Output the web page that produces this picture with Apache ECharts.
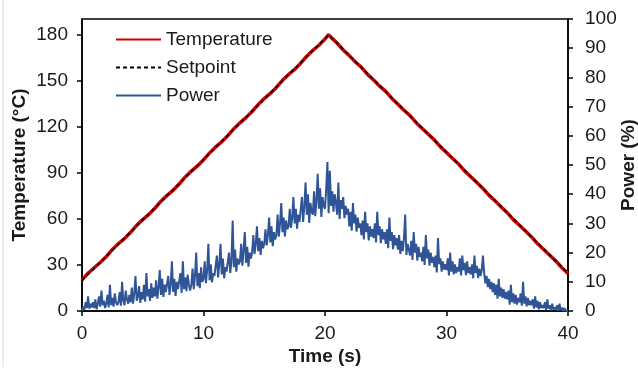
<!DOCTYPE html>
<html>
<head>
<meta charset="utf-8">
<script src="https://cdn.jsdelivr.net/npm/echarts@6/dist/echarts.min.js"></script>
<style>
html,body{margin:0;padding:0;background:#fff;}
#chart{width:638px;height:372px;}
</style>
</head>
<body>
<div id="chart"></div>
<script>
// ---- Data ----
var seriesNames = ['Temperature', 'Setpoint', 'Power'];
var tempLeftTicks = [0, 30, 60, 90, 120, 150, 180];
var powerTicks = [0, 10, 20, 30, 40, 50, 60, 70, 80, 90, 100];
var timeTicks = [0, 10, 20, 30, 40];

// Setpoint profile [time s, °C]
var setpoint = [[0, 20], [20.3, 180], [40, 24.7]];

// Measured temperature [time s, °C]
var temperature = [
  [0, 20.3], [0.5, 24.6], [1, 28.2], [1.5, 31.6], [2, 35.5], [2.5, 40.1], [3, 44.0], [3.5, 47.2],
  [4, 51.3], [4.5, 55.9], [5, 59.6], [5.5, 63.0], [6, 67.0], [6.5, 71.6], [7, 75.4], [7.5, 78.7],
  [8, 82.8], [8.5, 87.4], [9, 91.2], [9.5, 94.6], [10, 98.5], [10.5, 103.1], [11, 107.0], [11.5, 110.3],
  [12, 114.3], [12.5, 118.9], [13, 122.7], [13.5, 126.1], [14, 130.1], [14.5, 134.6], [15, 138.5],
  [15.5, 141.9], [16, 145.8], [16.5, 150.4], [17, 154.2], [17.5, 157.5], [18, 161.6], [18.5, 166.1],
  [19, 170.0], [19.5, 173.3], [20, 177.4], [20.3, 180.2], [20.6, 177.6], [21, 174.7], [21.5, 170.2],
  [22, 166.5], [22.5, 162.4], [23, 158.9], [23.5, 154.3], [24, 150.6], [24.5, 146.6], [25, 143.2],
  [25.5, 138.6], [26, 134.8], [26.5, 130.9], [27, 127.4], [27.5, 122.8], [28, 119.0], [28.5, 115.3],
  [29, 111.6], [29.5, 107.0], [30, 103.3], [30.5, 99.5], [31, 95.8], [31.5, 91.2], [32, 87.5],
  [32.5, 83.8], [33, 79.9], [33.5, 75.4], [34, 71.8], [34.5, 67.8], [35, 64.1], [35.5, 59.6],
  [36, 55.9], [36.5, 52.1], [37, 48.3], [37.5, 43.8], [38, 40.1], [38.5, 36.4], [39, 32.6],
  [39.5, 28.2], [40, 24.5]
];

// Heater power (%) sampled every 0.1 s from t = 0
var powerStep = 0.1;
var power = [
  0,1.5,0.5,3,1,5,0.8,2.5,1.2,3,
  1,4,0.6,2.5,5,1.5,7,2,3.5,1,
  2.5,5.5,1.2,9,2,4.5,1.5,6,3,2,
  3,6.5,1.8,10,3.5,2,7,4,2.5,5.5,
  3,8,2.5,6,12,3.5,5,8.5,2.8,6.5,
  4,9,3.2,13,5,7.5,3.5,9.5,4.5,8,
  5,10.5,4.2,8,14,5.5,11,4.8,9,6.5,
  6,12,5.5,9,17,6.5,11,5.2,10,7.5,
  8,13,6.2,17,7.5,11.5,6.8,12.5,9,7,
  9,14.5,7.5,12,20,8.5,13,7.8,15,10,
  11,17,9.5,14,23,10.5,16,9.8,13,12,
  12,19,11.5,16,23,12.5,18,11.2,15,13.5,
  14,20,13,17,31,15,21,13.5,18,16,
  17,23,15.5,21,27,16.5,22,15.2,20,18,
  20,26,19.5,23,29,20.5,25,19.2,24,21.5,
  23,28,22.5,26,32,23.5,29,22.2,27,24.5,
  26,33,25.5,30,37,27,32,25.5,31,28,
  29,35,28.5,32,39,30,35,28.2,33,30.5,
  31,39,30.5,36,44,33,40,30.2,37,34,
  33,41,32.5,38,47,35,42,32.2,39,36,
  35,42,51,33.5,48,36,41,34,40,37,
  33,44,31.5,38,35,39,31.8,36,33,35,
  29,34,27.5,37,30,33,27.2,32,28.5,30,
  26,31,24.5,34,27,30,24.2,29,25.5,28,
  25,30,23.5,34,26,29,23.2,28,24.5,27,
  23,28,21.5,32,24,27,21.2,26,22.5,25,
  21,26,19.5,24,20.5,25,33,19.2,23,21,
  19,24,17.5,27,20,23,17.2,22,18.5,20,
  17,22,15.8,26,18,21,15.5,20,16.5,18.5,
  15,19,13.2,25,16,18,13.5,17,14.2,16,
  14,18,12.2,20,13.5,17,12.5,16,13,15,
  13.5,18,12.2,19,14,16.5,12.3,17,13,15,
  12.5,16,11.2,19,13,15.5,11.3,14.5,12,14,
  19,13,9.5,12,8.2,11,7.5,10,6.5,9.5,
  5.5,9,4.2,11,5,8,4.5,7.5,4.2,6.5,
  4,7,2.2,9,3,6,2.5,5.5,2.2,4.5,
  3,6,1.8,10,2.5,5,1.6,4.5,2,3.5,
  2,4,0.8,5,1.2,3.5,0.6,3,1,2,
  1,3,0.3,4,0.8,2,0.2,2.5,0.5,1.2,
  0.5,2,0.1,2.5,0.3,1.2,0,1,0.2,0.5,
  0
];

// ---- Chart ----
var powerData = power.map(function (v, i) { return [+(i * powerStep).toFixed(2), v]; });

var FONT = 'Liberation Sans, Arial, sans-serif';
var TXT = '#1a1a1a';
var FS = 19;

var chart = echarts.init(document.getElementById('chart'), null, { renderer: 'canvas' });
chart.setOption({
  animation: false,
  backgroundColor: '#fff',
  textStyle: { fontFamily: FONT },
  graphic: [{
    type: 'line', silent: true,
    shape: { x1: 3, y1: 0, x2: 3, y2: 367 },
    style: { stroke: '#d9d9d9', lineWidth: 1 }
  }],
  grid: {
    left: 82, right: 70, top: 19, bottom: 61,
    show: true, borderColor: '#000', borderWidth: 1.5, backgroundColor: 'transparent',
    containLabel: false, outerBoundsMode: 'none'
  },
  legend: {
    left: 115, top: 30, orient: 'vertical', padding: 0,
    itemWidth: 45, itemHeight: 14, itemGap: 9,
    data: seriesNames,
    itemStyle: { opacity: 0 },
    textStyle: { fontFamily: FONT, fontSize: FS, color: TXT }
  },
  xAxis: {
    type: 'value', min: 0, max: 40, interval: 10,
    name: 'Time (s)', nameLocation: 'middle', nameGap: 36, nameMoveOverlap: false,
    nameTextStyle: { fontFamily: FONT, fontSize: FS, fontWeight: 'bold', color: TXT },
    axisLine: { show: true, lineStyle: { color: '#000', width: 1.5 } },
    axisTick: { show: true, length: 5, lineStyle: { color: '#000', width: 1.5 } },
    axisLabel: { fontFamily: FONT, fontSize: FS, color: TXT, margin: 13,
      customValues: timeTicks },
    splitLine: { show: false }
  },
  yAxis: [{
    type: 'value', min: 0, max: 190.4, interval: 30, position: 'left',
    name: 'Temperature (°C)', nameLocation: 'middle', nameGap: 53, nameMoveOverlap: false,
    nameTextStyle: { fontFamily: FONT, fontSize: FS, fontWeight: 'bold', color: TXT },
    axisLine: { show: true, lineStyle: { color: '#000', width: 1.5 } },
    axisTick: { show: true, length: 5, lineStyle: { color: '#000', width: 1.5 },
      customValues: tempLeftTicks },
    axisLabel: { fontFamily: FONT, fontSize: FS, color: TXT, margin: 14,
      customValues: tempLeftTicks },
    splitLine: { show: false }
  }, {
    type: 'value', min: 0, max: 100, interval: 10, position: 'right',
    name: 'Power (%)', nameLocation: 'middle', nameGap: 51, nameMoveOverlap: false,
    nameTextStyle: { fontFamily: FONT, fontSize: FS, fontWeight: 'bold', color: TXT },
    axisLine: { show: true, lineStyle: { color: '#000', width: 1.5 } },
    axisTick: { show: true, length: 5, lineStyle: { color: '#000', width: 1.5 },
      customValues: powerTicks },
    axisLabel: { fontFamily: FONT, fontSize: FS, color: TXT, margin: 17,
      customValues: powerTicks },
    splitLine: { show: false }
  }],
  series: [{
    name: seriesNames[2], type: 'line', yAxisIndex: 1, data: powerData,
    symbol: 'none', z: 1,
    lineStyle: { color: '#2f5597', width: 2 }, itemStyle: { color: '#2f5597' }
  }, {
    name: seriesNames[0], type: 'line', yAxisIndex: 0, data: temperature,
    symbol: 'none', z: 2,
    lineStyle: { color: '#d00000', width: 3.5 }, itemStyle: { color: '#d00000' }
  }, {
    name: seriesNames[1], type: 'line', yAxisIndex: 0, data: setpoint,
    symbol: 'none', z: 3,
    lineStyle: { color: '#000', width: 1.5, type: [4, 3] }, itemStyle: { color: '#000' }
  }]
});
</script>
</body>
</html>
